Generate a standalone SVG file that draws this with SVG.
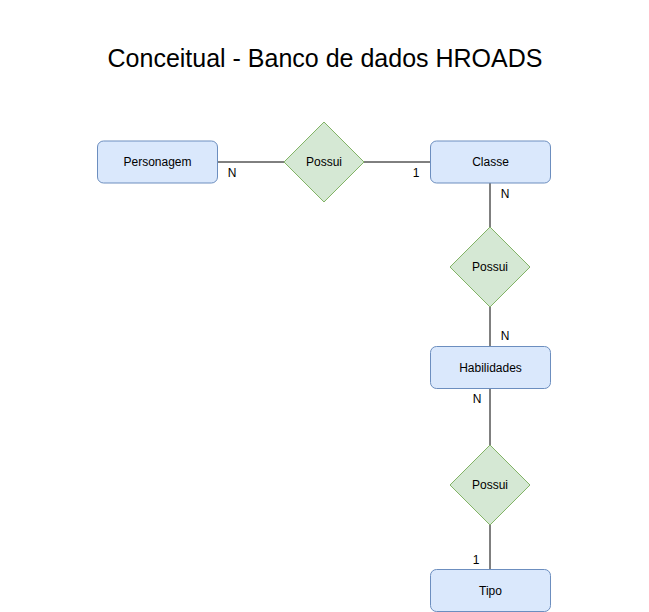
<svg xmlns="http://www.w3.org/2000/svg" width="649" height="612" viewBox="0 0 649 612">
<style>
.ent{fill:#dae8fc;stroke:#6c8ebf;stroke-width:1}
.rel{fill:#d5e8d4;stroke:#82b366;stroke-width:1}
.t{font-family:"Liberation Sans",Arial,sans-serif;font-size:12px;fill:#000;text-anchor:middle;dominant-baseline:central}
.edge{stroke:#000;stroke-width:1;fill:none}
</style>
<rect width="649" height="612" fill="#ffffff"/>
<text x="325" y="58" style="font-family:'Liberation Sans',Arial,sans-serif;font-size:25px;text-anchor:middle;dominant-baseline:central">Conceitual - Banco de dados HROADS</text>
<g id="connectors">
<path class="edge" d="M218 162H284"/>
<path class="edge" d="M364 162H430"/>
<path class="edge" d="M490 183V227"/>
<path class="edge" d="M490 307V346"/>
<path class="edge" d="M490 388V445"/>
<path class="edge" d="M490 525V569"/>
<text class="t" x="232" y="173">N</text>
<text class="t" x="416" y="173">1</text>
<text class="t" x="505" y="194">N</text>
<text class="t" x="505" y="336">N</text>
<text class="t" x="477" y="399">N</text>
<text class="t" x="476" y="560">1</text>
</g>
<g id="personagem">
<rect class="ent" x="97.5" y="141" width="120" height="42" rx="6"/>
<text class="t" x="157.5" y="162">Personagem</text>
</g>
<g id="possui1">
<path class="rel" d="M324 122L364 162L324 202L284 162Z"/>
<text class="t" x="324" y="162">Possui</text>
</g>
<g id="classe">
<rect class="ent" x="430.5" y="141" width="120" height="42" rx="6"/>
<text class="t" x="490.5" y="162">Classe</text>
</g>
<g id="possui2">
<path class="rel" d="M490 227L530 267L490 307L450 267Z"/>
<text class="t" x="490" y="267">Possui</text>
</g>
<g id="habilidades">
<rect class="ent" x="430.5" y="346.5" width="120" height="42" rx="6"/>
<text class="t" x="490.5" y="367.5">Habilidades</text>
</g>
<g id="possui3">
<path class="rel" d="M490 445L530 485L490 525L450 485Z"/>
<text class="t" x="490" y="485">Possui</text>
</g>
<g id="tipo">
<rect class="ent" x="430.5" y="569.5" width="120" height="42" rx="6"/>
<text class="t" x="490.5" y="590.5">Tipo</text>
</g>
</svg>
